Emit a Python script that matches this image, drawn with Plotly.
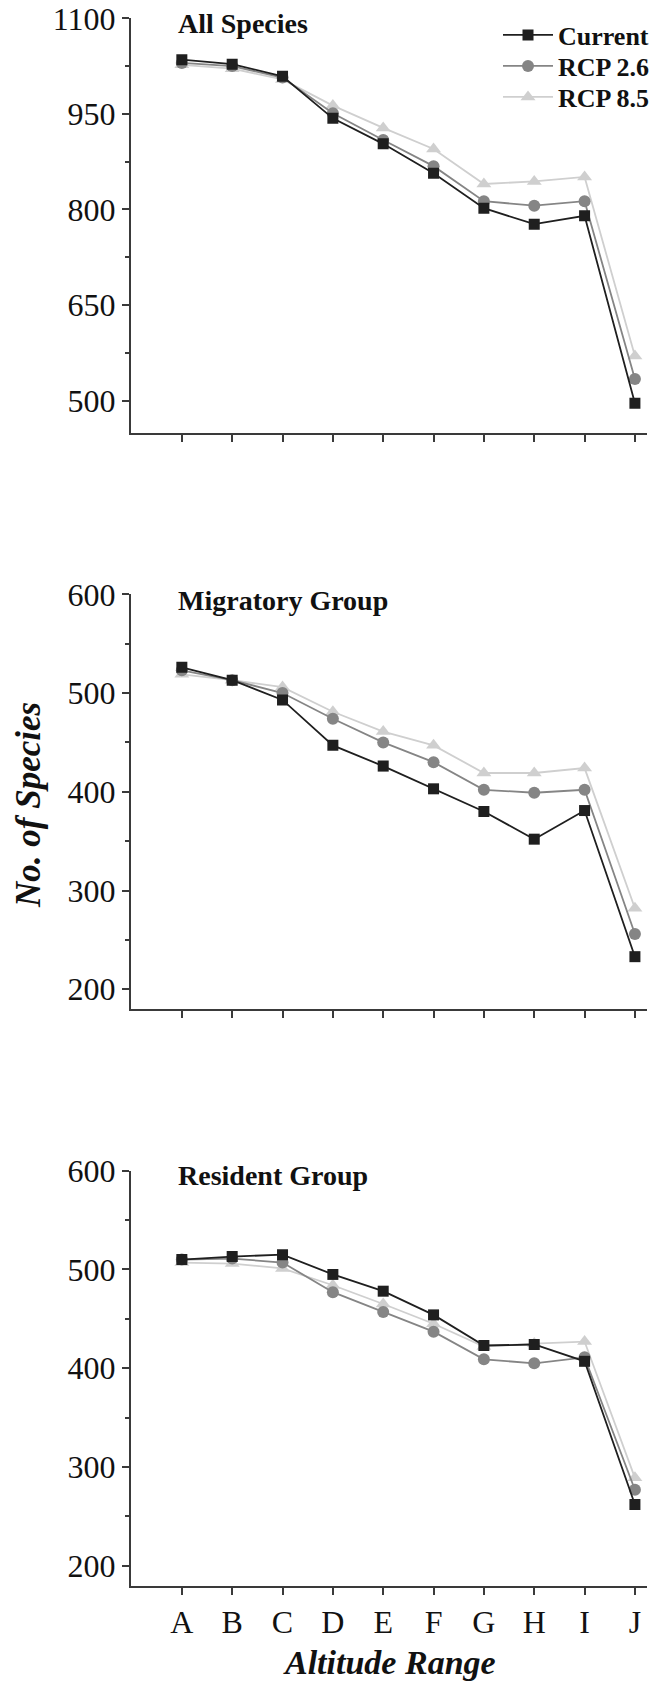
import plotly.graph_objects as go

# Altitude range categories
cats = ["A", "B", "C", "D", "E", "F", "G", "H", "I", "J"]

# All species
all_current = [1035, 1028, 1009, 943, 903, 857, 802, 777, 790, 496]
all_rcp26 = [1030, 1025, 1007, 951, 909, 868, 813, 806, 813, 534]
all_rcp85 = [1027, 1021, 1004, 963, 928, 895, 840, 844, 851, 570]

# Migratory group
mig_current = [526, 513, 493, 447, 426, 403, 380, 352, 381, 233]
mig_rcp26 = [523, 513, 500, 474, 450, 430, 402, 399, 402, 256]
mig_rcp85 = [519, 513, 506, 481, 461, 447, 419, 419, 424, 282]

# Resident group
res_current = [510, 513, 515, 495, 478, 454, 423, 424, 407, 262]
res_rcp26 = [510, 511, 507, 477, 457, 437, 409, 405, 411, 277]
res_rcp85 = [507, 506, 501, 484, 465, 445, 422, 425, 427, 289]

panel_titles = ["All Species", "Migratory Group", "Resident Group"]
series_names = ["Current", "RCP 2.6", "RCP 8.5"]

W, H = 658, 1682
FONT = "Liberation Serif"
AXIS_COLOR = "#3a3a3a"
TICK_SIZE = 32

styles = {
    "Current": dict(color="#1f1f1f", symbol="square", size=11),
    "RCP 2.6": dict(color="#858585", symbol="circle", size=12),
    "RCP 8.5": dict(color="#cfcfcf", symbol="triangle-up", size=13),
}
# one legend per series so each row sits at its own height
legend_ids = {"Current": "legend", "RCP 2.6": "legend2", "RCP 8.5": "legend3"}
legend_rows = {"Current": 35, "RCP 2.6": 66, "RCP 8.5": 97}

panels = [
    dict(data={"Current": all_current, "RCP 2.6": all_rcp26, "RCP 8.5": all_rcp85},
         yr=[450, 1100], dtick=150, tick0=500, mtick0=425, mdtick=75,
         top=18.3, bottom=432.5),
    dict(data={"Current": mig_current, "RCP 2.6": mig_rcp26, "RCP 8.5": mig_rcp85},
         yr=[180, 600], dtick=100, tick0=200, mtick0=150, mdtick=50,
         top=594.3, bottom=1009),
    dict(data={"Current": res_current, "RCP 2.6": res_rcp26, "RCP 8.5": res_rcp85},
         yr=[180, 600], dtick=100, tick0=200, mtick0=150, mdtick=50,
         top=1170.7, bottom=1585.5),
]

fig = go.Figure()
x_dom = [131 / W, 647 / W]

for i, p in enumerate(panels):
    xa = "x" if i == 0 else f"x{i+1}"
    ya = "y" if i == 0 else f"y{i+1}"
    # lighter series first so Current sits on top
    for name in reversed(series_names):
        st = styles[name]
        fig.add_trace(go.Scatter(
            x=cats, y=p["data"][name], name=name, mode="lines+markers",
            xaxis=xa, yaxis=ya, showlegend=(i == 0), legend=legend_ids[name],
            line=dict(color=st["color"], width=1.8),
            marker=dict(symbol=st["symbol"], size=st["size"], color=st["color"],
                        line=dict(width=0)),
        ))
    last = i == len(panels) - 1
    xkey = "xaxis" if i == 0 else f"xaxis{i+1}"
    ykey = "yaxis" if i == 0 else f"yaxis{i+1}"
    fig.layout[xkey] = dict(
        domain=x_dom, anchor=ya, type="category", range=[-1.01, 9.24],
        automargin=False,
        showline=True, linecolor=AXIS_COLOR, linewidth=2,
        ticks="outside", ticklen=7, tickwidth=2, tickcolor=AXIS_COLOR,
        showticklabels=last, showgrid=False, zeroline=False,
        tickfont=dict(family=FONT, size=TICK_SIZE, color="#111"),
        fixedrange=True,
    )
    fig.layout[ykey] = dict(
        domain=[(H - p["bottom"]) / H, (H - p["top"]) / H], anchor=xa,
        range=p["yr"], tick0=p["tick0"], dtick=p["dtick"], tickmode="linear",
        automargin=False,
        showline=True, linecolor=AXIS_COLOR, linewidth=2,
        ticks="outside", ticklen=7, tickwidth=2, tickcolor=AXIS_COLOR,
        minor=dict(ticks="outside", ticklen=4, tickwidth=2, tickcolor=AXIS_COLOR,
                   tickmode="linear", tick0=p["mtick0"], dtick=p["mdtick"]),
        showgrid=False, zeroline=False,
        tickfont=dict(family=FONT, size=TICK_SIZE, color="#111"),
        fixedrange=True,
    )

annotations = []
title_centers = [23, 600, 1175]
for t, yc in zip(panel_titles, title_centers):
    annotations.append(dict(
        text=t, x=176 / W, y=(H - yc) / H, xref="paper", yref="paper",
        xanchor="left", yanchor="middle", showarrow=False,
        font=dict(family=FONT, size=28, color="#111", weight="bold"),
    ))

annotations.append(dict(
    text="No. of Species", x=28 / W, y=(H - 805) / H, xref="paper", yref="paper",
    xanchor="center", yanchor="middle", textangle=-90, showarrow=False,
    font=dict(family=FONT, size=35, color="#111", weight="bold", style="italic"),
))
annotations.append(dict(
    text="Altitude Range", x=389 / W, y=(H - 1662) / H, xref="paper", yref="paper",
    xanchor="center", yanchor="middle", showarrow=False,
    font=dict(family=FONT, size=34, color="#111", weight="bold", style="italic"),
))

legend_font = dict(family=FONT, size=26, color="#111", weight="bold")
layout_legends = {}
for name in series_names:
    layout_legends[legend_ids[name]] = dict(
        x=498 / W, y=1 - legend_rows[name] / H, xanchor="left", yanchor="middle",
        bgcolor="rgba(0,0,0,0)", font=legend_font, itemwidth=50,
    )

fig.update_layout(
    width=W, height=H,
    margin=dict(l=0, r=0, t=0, b=0, autoexpand=False),
    paper_bgcolor="white", plot_bgcolor="white",
    annotations=annotations,
    **layout_legends,
)

fig.write_html("out.html")
